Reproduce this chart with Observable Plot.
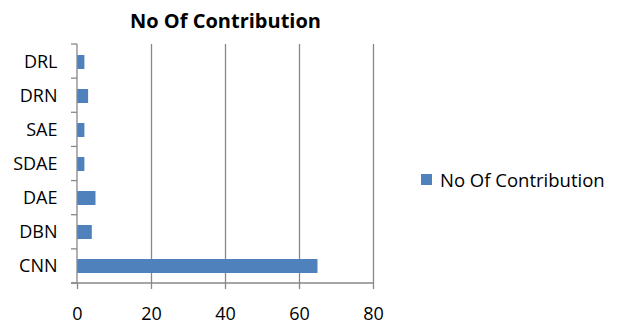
<!DOCTYPE html>
<html>
<head>
<meta charset="utf-8">
<script src="https://cdn.jsdelivr.net/npm/d3@7"></script>
<script src="https://cdn.jsdelivr.net/npm/@observablehq/plot@0.6"></script>
<style>
  html, body { margin: 0; padding: 0; background: #fff; }
  #wrap { position: relative; width: 619px; height: 326px; font-family: "Open Sans", Lato, sans-serif; }
  #legend { position: absolute; left: 421px; top: 167px; display: flex; align-items: center; font-size: 18.5px; color: #000; }
  #legend .sw { width: 11px; height: 11px; background: #4F81BD; margin-right: 8px; }
</style>
</head>
<body>
<div id="wrap"></div>
<script>
const title = "No Of Contribution";
const seriesName = "No Of Contribution";
const categories = ["DRL", "DRN", "SAE", "SDAE", "DAE", "DBN", "CNN"];
const values = [2, 3, 2, 2, 5, 4, 65];
const xTicks = [0, 20, 40, 60, 80];

const data = categories.map((c, i) => ({category: c, value: values[i]}));
const axisColor = "#888888";

const yAxisMark = (index, scales, vals, dims) => {
  const g = d3.create("svg:g");
  const x0 = dims.marginLeft;
  const top = dims.marginTop;
  const bottom = dims.height - dims.marginBottom;
  g.append("line").attr("x1", x0).attr("x2", x0).attr("y1", top).attr("y2", bottom)
    .attr("stroke", axisColor).attr("stroke-width", 1.3);
  const step = (bottom - top) / categories.length;
  for (let i = 0; i <= categories.length; i++) {
    const y = top + i * step;
    g.append("line").attr("x1", x0 - 6).attr("x2", x0).attr("y1", y).attr("y2", y)
      .attr("stroke", axisColor).attr("stroke-width", 1.3);
  }
  g.append("line").attr("x1", x0 - 6).attr("x2", dims.width - dims.marginRight).attr("y1", bottom).attr("y2", bottom)
    .attr("stroke", axisColor).attr("stroke-width", 1.3);
  return g.node();
};

const chart = Plot.plot({
  width: 619,
  height: 326,
  marginLeft: 77,
  marginRight: 246,
  marginTop: 44,
  marginBottom: 43,
  style: {fontFamily: "'Open Sans', Lato, sans-serif", fontSize: "18px", color: "#000", background: "#fff"},
  x: {domain: [0, 80], ticks: xTicks},
  y: {domain: categories, paddingInner: 0.6, paddingOuter: 0.3},
  marks: [
    Plot.gridX(xTicks.slice(1), {stroke: axisColor, strokeOpacity: 1, strokeWidth: 1.3}),
    Plot.barX(data, {x: "value", y: "category", fill: "#4F81BD"}),
    yAxisMark,
    Plot.axisX(xTicks, {tickSize: 6, tickPadding: 18, stroke: axisColor, strokeWidth: 1.3, fill: "#000", fontSize: 18, label: null}),
    Plot.axisY({tickSize: 0, tickPadding: 20, fill: "#000", fontSize: 18, label: null}),
    Plot.text([title], {frameAnchor: "top", dy: -31, fontWeight: "bold", fontSize: 20, fill: "#000"})
  ]
});

const wrap = document.getElementById("wrap");
wrap.appendChild(chart);
const legend = document.createElement("div");
legend.id = "legend";
legend.innerHTML = `<div class="sw"></div><span></span>`;
legend.querySelector("span").textContent = seriesName;
wrap.appendChild(legend);
</script>
</body>
</html>
